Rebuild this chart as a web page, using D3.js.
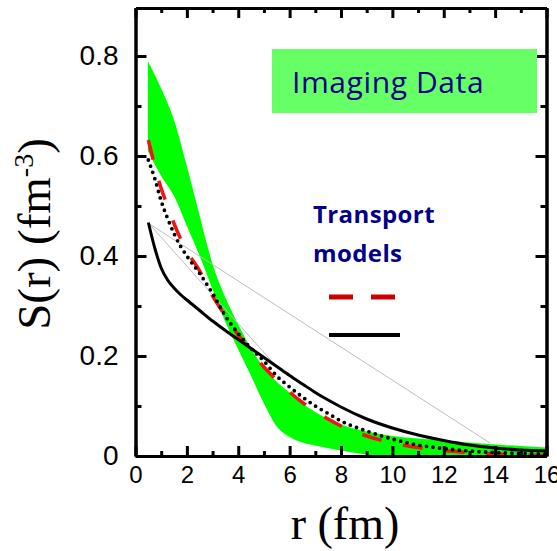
<!DOCTYPE html>
<html>
<head>
<meta charset="utf-8">
<script src="https://cdn.jsdelivr.net/npm/d3@7"></script>
<style>
  body { margin: 0; background: #fff; }
  svg { display: block; }
</style>
</head>
<body>
<svg id="canvas"></svg>
<script>
// imaging data band (r in fm, lower / upper edge of S(r))
const bandR  = [0.48, 1.0, 1.5, 2.0, 2.5, 3.0, 3.5, 4.0, 4.5, 5.0, 5.5, 6.0, 6.5, 7.0, 8.0, 9.0, 9.5, 10, 11, 12, 13, 14, 15, 16];
const bandLo = [0.61, 0.56, 0.52, 0.46, 0.40, 0.333, 0.268, 0.213, 0.16, 0.105, 0.059, 0.038, 0.027, 0.021, 0.011, 0.003, 0, 0, 0, 0, 0, 0, 0, 0];
const bandHi = [0.79, 0.735, 0.672, 0.58, 0.48, 0.384, 0.317, 0.263, 0.215, 0.176, 0.148, 0.127, 0.105, 0.088, 0.063, 0.049, 0.044, 0.040, 0.035, 0.031, 0.027, 0.023, 0.020, 0.017];

// transport model curves
const modelR   = [0.5, 0.75, 1.0, 1.25, 1.5, 1.75, 2.0, 2.5, 3.0, 3.5, 4.0, 4.5, 5.0, 5.5, 6.0, 6.5, 7.0, 7.5, 8.0, 9.0, 10, 11, 12, 13, 14, 15, 16];
const redDash  = [0.632, 0.58, 0.535, 0.50, 0.465, 0.435, 0.41, 0.37, 0.32, 0.28, 0.242, 0.21, 0.178, 0.152, 0.128, 0.107, 0.09, 0.074, 0.06, 0.04, 0.026, 0.017, 0.011, 0.007, 0.004, 0.002, 0.001];
const dotted   = [0.592, 0.555, 0.51, 0.475, 0.445, 0.42, 0.40, 0.365, 0.325, 0.28, 0.245, 0.215, 0.19, 0.16, 0.138, 0.118, 0.10, 0.085, 0.07, 0.05, 0.034, 0.022, 0.015, 0.01, 0.007, 0.005, 0.004];
const blackSol = [0.467, 0.416, 0.376, 0.352, 0.336, 0.323, 0.312, 0.291, 0.270, 0.251, 0.233, 0.215, 0.197, 0.179, 0.161, 0.144, 0.127, 0.112, 0.098, 0.074, 0.056, 0.042, 0.031, 0.022, 0.016, 0.012, 0.01];

// thin gray guide lines [r0, s0, r1, s1]
const guideLines = [[0.52, 0.465, 13.8, 0.026], [0.52, 0.465, 5.47, 0.18]];

const xTicks = [0, 2, 4, 6, 8, 10, 12, 14, 16];
const xMinor = [1, 3, 5, 7, 9, 11, 13, 15];
const yTicks = [0, 0.2, 0.4, 0.6, 0.8];
const yMinor = [0.1, 0.3, 0.5, 0.7];

let width = 557;
let height = 551;
let plotLeft = 135.5, plotRight = 546.5, plotTop = 8, plotBottom = 456;

let canvas = d3.select('#canvas')
    .attr('width', width)
    .attr('height', height);

let xScale = d3.scaleLinear().domain([0, 16]).range([plotLeft, plotRight]);
let yScale = d3.scaleLinear().domain([0, 0.896]).range([plotBottom, plotTop]);

// green band
let band = bandR.map((r, i) => ({r: r, lo: bandLo[i], hi: bandHi[i]}));
let area = d3.area()
    .x(d => xScale(d.r))
    .y0(d => yScale(d.lo))
    .y1(d => yScale(d.hi))
    .curve(d3.curveMonotoneX);

canvas.append('path')
    .datum(band)
    .attr('d', area)
    .attr('fill', '#00ff00');

// gray guides
canvas.selectAll('.guide')
    .data(guideLines)
    .enter()
    .append('line')
    .attr('class', 'guide')
    .attr('x1', d => xScale(d[0]))
    .attr('y1', d => yScale(d[1]))
    .attr('x2', d => xScale(d[2]))
    .attr('y2', d => yScale(d[3]))
    .attr('stroke', '#bdbdbd')
    .attr('stroke-width', 1);

let line = d3.line()
    .x(d => xScale(d[0]))
    .y(d => yScale(d[1]))
    .curve(d3.curveMonotoneX);

function curve (vals) {
    return modelR.map((r, i) => [r, vals[i]]);
}

canvas.append('path')
    .attr('d', line(curve(redDash)))
    .attr('fill', 'none')
    .attr('stroke', '#f01414')
    .attr('stroke-width', 3.5)
    .attr('stroke-dasharray', '20 22');

canvas.append('path')
    .attr('d', line(curve(dotted)))
    .attr('fill', 'none')
    .attr('stroke', '#000')
    .attr('stroke-width', 3.8)
    .attr('stroke-linecap', 'round')
    .attr('stroke-dasharray', '0 6.6');

canvas.append('path')
    .attr('d', line(curve(blackSol)))
    .attr('fill', 'none')
    .attr('stroke', '#000')
    .attr('stroke-width', 3);

// axes (ticks point inward on all four sides)
function styleAxis (g, size) {
    g.selectAll('path').attr('stroke-width', 3);
    g.selectAll('line').attr('stroke-width', 3);
    g.selectAll('text')
        .attr('font-family', 'Liberation Sans, Arial, sans-serif')
        .attr('font-size', size)
        .attr('fill', '#000');
}

let xAxis = d3.axisBottom(xScale).tickValues(xTicks).tickSize(-10).tickSizeOuter(0).tickPadding(10);
canvas.append('g')
    .attr('transform', 'translate(0,' + plotBottom + ')')
    .call(xAxis)
    .call(g => styleAxis(g, 24));

canvas.append('g')
    .attr('transform', 'translate(0,' + plotBottom + ')')
    .call(d3.axisBottom(xScale).tickValues(xMinor).tickSize(-5).tickSizeOuter(0).tickFormat(''))
    .call(g => styleAxis(g, 24));

canvas.append('g')
    .attr('transform', 'translate(0,' + plotTop + ')')
    .call(d3.axisTop(xScale).tickValues(xTicks).tickSize(-10).tickSizeOuter(0).tickFormat(''))
    .call(g => styleAxis(g, 24));

canvas.append('g')
    .attr('transform', 'translate(0,' + plotTop + ')')
    .call(d3.axisTop(xScale).tickValues(xMinor).tickSize(-5).tickSizeOuter(0).tickFormat(''))
    .call(g => styleAxis(g, 24));

let yAxis = d3.axisLeft(yScale).tickValues(yTicks).tickSize(-11).tickSizeOuter(0).tickPadding(17)
    .tickFormat(d => d === 0 ? '0' : d3.format('.1f')(d));
canvas.append('g')
    .attr('transform', 'translate(' + plotLeft + ',0)')
    .call(yAxis)
    .call(g => styleAxis(g, 28));

canvas.append('g')
    .attr('transform', 'translate(' + plotLeft + ',0)')
    .call(d3.axisLeft(yScale).tickValues(yMinor).tickSize(-6).tickSizeOuter(0).tickFormat(''))
    .call(g => styleAxis(g, 28));

canvas.append('g')
    .attr('transform', 'translate(' + plotRight + ',0)')
    .call(d3.axisRight(yScale).tickValues(yTicks).tickSize(-11).tickSizeOuter(0).tickFormat(''))
    .call(g => styleAxis(g, 28));

canvas.append('g')
    .attr('transform', 'translate(' + plotRight + ',0)')
    .call(d3.axisRight(yScale).tickValues(yMinor).tickSize(-6).tickSizeOuter(0).tickFormat(''))
    .call(g => styleAxis(g, 28));

// axis titles
canvas.append('text')
    .attr('x', 345)
    .attr('y', 539)
    .attr('text-anchor', 'middle')
    .attr('font-family', 'Liberation Serif, Times New Roman, serif')
    .attr('font-size', 46)
    .text('r (fm)');

let yTitle = canvas.append('text')
    .attr('transform', 'translate(50,234) rotate(-90)')
    .attr('text-anchor', 'middle')
    .attr('font-family', 'Liberation Serif, Times New Roman, serif')
    .attr('font-size', 47);
yTitle.append('tspan').text('S(r) (fm');
yTitle.append('tspan').attr('font-size', 28).attr('dy', -17).text('-3');
yTitle.append('tspan').attr('dy', 17).text(')');

// legend
canvas.append('rect')
    .attr('x', 272)
    .attr('y', 49)
    .attr('width', 265)
    .attr('height', 64)
    .attr('fill', '#66ff66');

canvas.append('text')
    .attr('x', 292)
    .attr('y', 93)
    .attr('font-family', 'Open Sans, Lato, sans-serif')
    .attr('font-size', 30)
    .attr('letter-spacing', 0.6)
    .attr('fill', '#00008b')
    .text('Imaging Data');

canvas.append('text')
    .attr('x', 313)
    .attr('y', 223)
    .attr('font-family', 'Open Sans, Lato, sans-serif')
    .attr('font-weight', 'bold')
    .attr('font-size', 24)
    .attr('letter-spacing', 0.4)
    .attr('fill', '#00008b')
    .text('Transport');

canvas.append('text')
    .attr('x', 313)
    .attr('y', 262)
    .attr('font-family', 'Open Sans, Lato, sans-serif')
    .attr('font-weight', 'bold')
    .attr('font-size', 24)
    .attr('letter-spacing', 0.4)
    .attr('fill', '#00008b')
    .text('models');

canvas.append('line')
    .attr('x1', 329).attr('x2', 395)
    .attr('y1', 297).attr('y2', 297)
    .attr('stroke', '#cc0000')
    .attr('stroke-width', 5)
    .attr('stroke-dasharray', '24 18');

canvas.append('line')
    .attr('x1', 329).attr('x2', 400)
    .attr('y1', 335).attr('y2', 335)
    .attr('stroke', '#000')
    .attr('stroke-width', 4);
</script>
</body>
</html>
